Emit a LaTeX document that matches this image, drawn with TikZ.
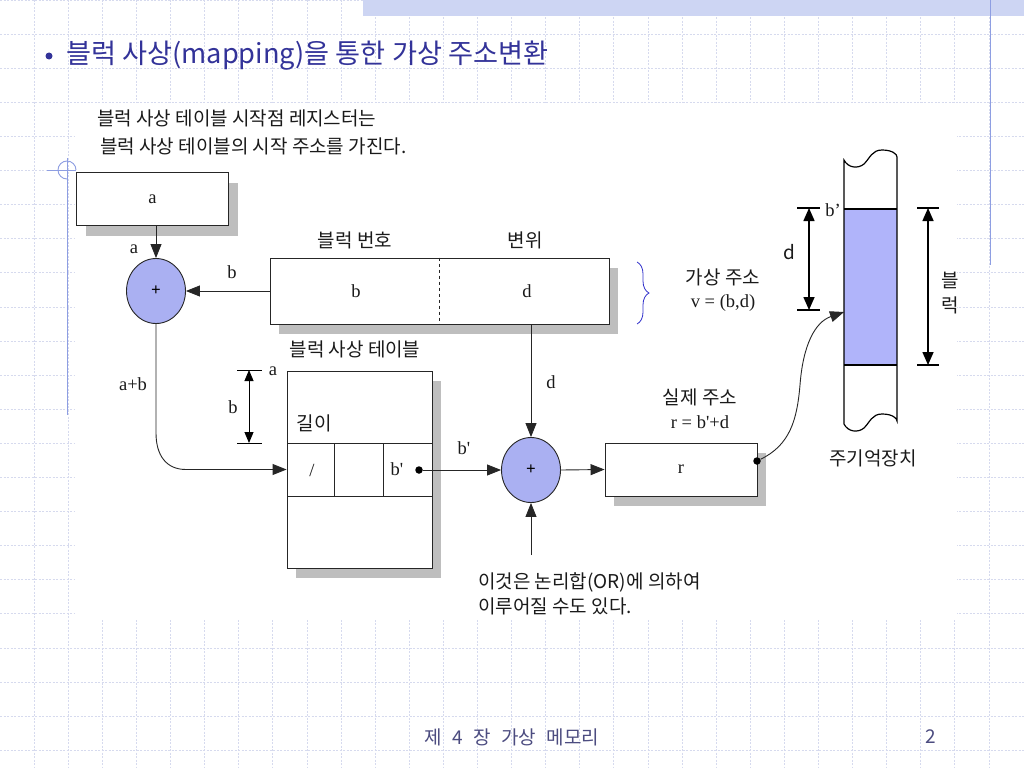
\documentclass[tikz,border=0pt]{standalone}
\usepackage{fontspec}
\setmainfont{Liberation Serif}
\newfontfamily\kr{Noto Sans CJK KR}
\usetikzlibrary{arrows.meta,decorations.pathreplacing,shapes.geometric,shadows}
\definecolor{gridc}{HTML}{D6DAEE}
\definecolor{barc}{HTML}{CDD5F3}
\definecolor{bluel}{HTML}{8E9EE2}
\definecolor{circf}{HTML}{AAB0F2}
\definecolor{memf}{HTML}{B0B4FA}
\definecolor{shad}{HTML}{BEBEBE}
\definecolor{titlec}{HTML}{333399}
\definecolor{footc}{HTML}{4C4C80}
\definecolor{linec}{HTML}{262626}
\definecolor{txt}{HTML}{1A1A1A}
\definecolor{bracec}{HTML}{3333CC}
\begin{document}
\begin{tikzpicture}[x=1pt,y=-1pt,
  gridl/.style={draw=gridc,line width=0.7pt,dash pattern=on 2pt off 1.5pt},
  kor/.style={font=\kr\fontsize{19pt}{22pt}\selectfont,text=txt,inner sep=0pt},
  ser/.style={font=\fontsize{18.5pt}{20pt}\selectfont,text=txt,inner sep=0pt},
  boxn/.style={draw=linec,line width=0.9pt,fill=white,inner sep=0pt,text=txt,
    font=\fontsize{18.5pt}{20pt}\selectfont,
    drop shadow={shadow xshift=9pt,shadow yshift=-10pt,fill=shad,opacity=1}},
  adder/.style={ellipse,draw=linec,line width=0.9pt,fill=circf,inner sep=0pt,
    minimum width=59pt,minimum height=65pt,text=black,font=\bfseries\fontsize{17pt}{17pt}\selectfont},
  con/.style={draw=linec,line width=0.9pt},
  arr/.style={con,-{Triangle[length=14pt,width=11pt]}},
  dimsm/.style={draw=black,line width=0.9pt,{Triangle[length=11pt,width=9pt]}-{Triangle[length=11pt,width=9pt]}},
  dimbg/.style={draw=black,line width=1.5pt,{Triangle[length=13pt,width=11pt]}-{Triangle[length=13pt,width=11pt]}},
  dotn/.style={circle,fill=black,inner sep=0pt,minimum size=7.5pt},
]
\useasboundingbox (0,0) rectangle (1024,768);
\fill[white] (0,0) rectangle (1024,768);
% background grid
\foreach \i in {1,...,29} \draw[gridl] (34.1*\i,0) -- (34.1*\i,768);
\foreach \j in {0,...,22} \draw[gridl] (0,34.1*\j) -- (1024,34.1*\j);
\fill[barc] (363,0) rectangle (1024,16);
\draw[bluel,line width=1pt] (990,0) -- (990,265);
\fill[white] (75,103) rectangle (957,620);
% crosshair
\draw[bluel,line width=1pt] (67,158) -- (67,415);
\draw[bluel,line width=0.9pt] (47,170) -- (76,170);
\draw[bluel,line width=0.9pt] (67,179) arc[start angle=90,end angle=360,radius=9];
% title
\fill[titlec] (49,56) circle (3.5);
\node[anchor=west,inner sep=0pt,font=\kr\fontsize{27.2pt}{32pt}\selectfont,text=titlec] (title) at (66,56) {블럭 사상(mapping)을 통한 가상 주소변환};
\node[kor,anchor=west] (n1) at (97,118) {블럭 사상 테이블 시작점 레지스터는};
\node[kor,anchor=west] (n2) at (100,146) {블럭 사상 테이블의 시작 주소를 가진다.};
% boxes
\node[boxn,minimum width=152pt,minimum height=53pt] (rega) at (152.5,199) {a};
\node[boxn,minimum width=339pt,minimum height=66pt] (vaddr) at (439.5,291) {};
\draw[linec,line width=0.8pt,dashed] (vaddr.north) -- (vaddr.south);
\node[ser] (lb) at (356,291) {b};
\node[ser] (ld) at (527,291) {d};
\node[kor] (hb) at (355,240) {블럭 번호};
\node[kor] (hd) at (525,240) {변위};
\node[boxn,minimum width=145pt,minimum height=197pt] (tbl) at (359.5,469.5) {};
\draw[con] (287,443) -- (432,443);
\draw[con] (287,496) -- (432,496);
\draw[con] (334,443) -- (334,496);
\draw[con] (383,443) -- (383,496);
\node[kor] (len) at (314,423) {길이};
\node[ser] (sl) at (312,470) {/};
\node[ser] (bp) at (397,469) {b\textquotesingle};
\node[dotn] (dot1) at (419,470) {};
\node[kor] (tbllab) at (355,349) {블럭 사상 테이블};
\node[boxn,minimum width=152pt,minimum height=53pt] (rbox) at (681,469.5) {r};
\node[dotn] (dot2) at (757,461) {};
% adders
\node[adder] (add1) at (156,291) {+};
\node[adder] (add2) at (531,470) {+};
% connectors
\draw[arr] (rega.south -| add1.north) -- (add1.north);
\draw[arr] (vaddr.west) -- (add1.east);
\draw[arr] (add1.south) -- (156,433) .. controls (156,455) and (166,469.5) .. (186,469.5) -- (tbl.west);
\draw[arr] (dot1) -- (add2.west);
\draw[arr] (vaddr.south -| add2.north) -- (add2.north);
\coordinate (orin) at (531,555);
\draw[arr] (orin) -- (add2.south);
\draw[arr] (add2.east) -- (rbox.west);
\coordinate (memin) at (844,312);
\draw[arr] (dot2) .. controls (790,445) and (797,420) .. (800,385) .. controls (803,345) and (815,322) .. (memin);
% labels
\node[ser] (la1) at (134,249) {a};
\node[ser] (lb1) at (232,272) {b};
\node[ser] (lab) at (133,384) {a+b};
\node[ser] (la2) at (273,371) {a};
\node[ser] (lb2) at (233,407) {b};
\node[ser] (lbp) at (464,448) {b\textquotesingle};
\node[ser] (ld2) at (551,382) {d};
% brace
\draw[bracec,line width=0.8pt,decorate,decoration={brace,amplitude=12pt}] (637,262) -- (637,324);
\node[kor] (va1) at (723,277) {가상 주소};
\node[ser] (va2) at (723,303) {v = (b,d)};
\node[kor] (ra1) at (700,397) {실제 주소};
\node[ser] (ra2) at (700,422) {r = b\textquotesingle+d};
% dimension near table
\draw[con,draw=black] (237,370) -- (262,370);
\draw[con,draw=black] (237,443) -- (262,443);
\draw[dimsm] (249,370) -- (249,443);
% memory
\fill[white] (844,160) .. controls (848,168) and (858,169) .. (864,164) .. controls (870,158) and (872,150) .. (882,150) .. controls (892,150) and (897,154) .. (897,157)
  -- (897,421) .. controls (897,418) and (892,414) .. (882,414) .. controls (872,414) and (870,422) .. (864,428) .. controls (858,433) and (848,432) .. (844,424) -- cycle;
\fill[memf] (844,209) rectangle (897,365);
\draw[black,line width=1.2pt] (844,160) .. controls (848,168) and (858,169) .. (864,164) .. controls (870,158) and (872,150) .. (882,150) .. controls (892,150) and (897,154) .. (897,157)
  -- (897,421) .. controls (897,418) and (892,414) .. (882,414) .. controls (872,414) and (870,422) .. (864,428) .. controls (858,433) and (848,432) .. (844,424) -- cycle;
\draw[black,line width=1.2pt] (844,209) -- (897,209);
\draw[black,line width=1.2pt] (844,365) -- (897,365);
\draw[black,line width=1.5pt] (797,208) -- (820,208);
\draw[black,line width=1.5pt] (797,310) -- (820,310);
\draw[dimbg] (809,208) -- (809,310);
\draw[black,line width=1.5pt] (917,208) -- (939,208);
\draw[black,line width=1.5pt] (917,365) -- (939,365);
\draw[dimbg] (928,208) -- (928,365);
\node[ser] (mb) at (833,210) {b’};
\node[kor] (md) at (789,252) {d};
\node[kor] (bl1) at (950,280) {블};
\node[kor] (bl2) at (950,305) {럭};
\node[kor] (mem) at (873,458) {주기억장치};
% bottom note
\node[kor,anchor=west] (or1) at (478,582) {이것은 논리합(OR)에 의하여};
\node[kor,anchor=west] (or2) at (478,606) {이루어질 수도 있다.};
% footer
\node[inner sep=0pt,font=\kr\fontsize{19pt}{22pt}\selectfont,text=footc] (foot) at (512,737) {제\hspace{0.55em}4\hspace{0.55em}장\hspace{0.55em}가상\hspace{0.55em}메모리};
\node[inner sep=0pt,font=\kr\fontsize{19pt}{22pt}\selectfont,text=footc] (pg) at (931,737) {2};
\end{tikzpicture}
\end{document}
